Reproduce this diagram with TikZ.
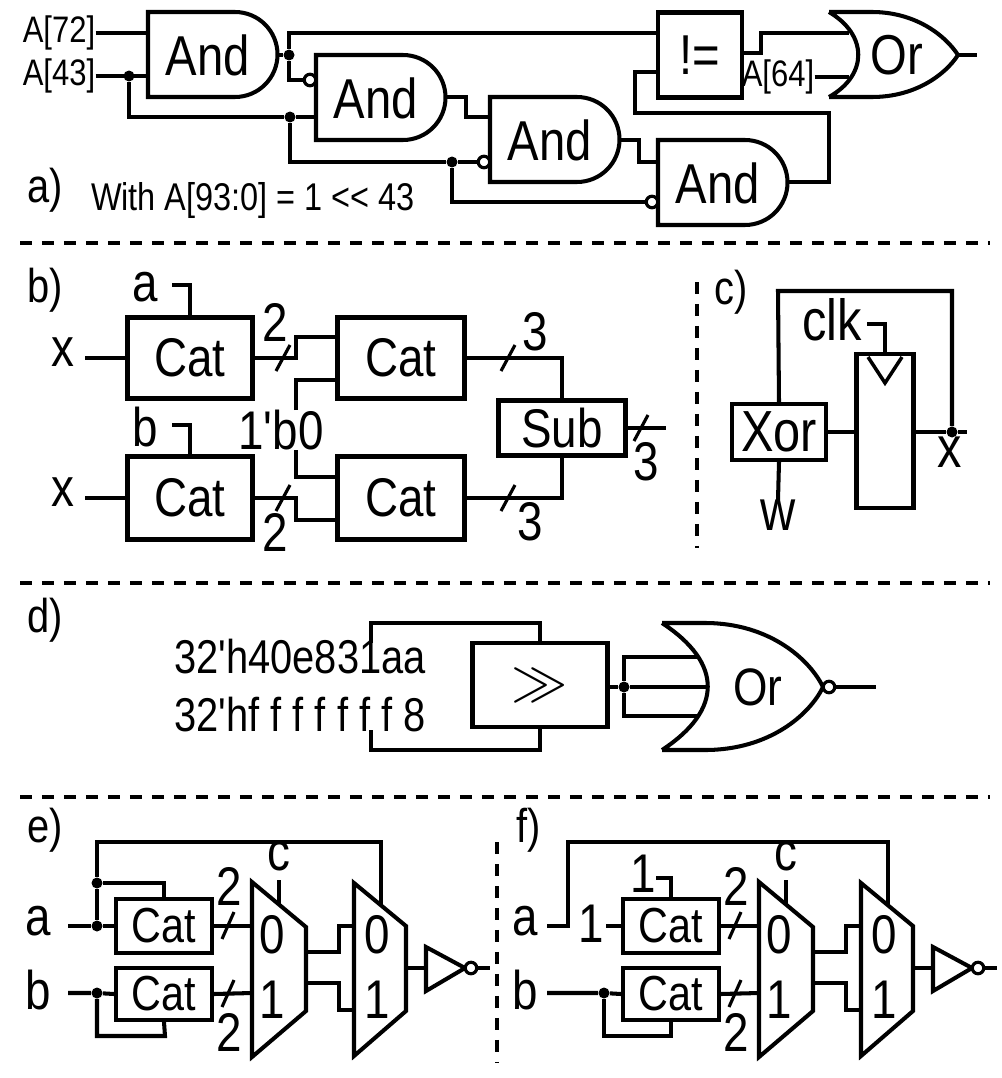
\documentclass[tikz,border=0pt]{standalone}
\usepackage{fontspec}
\setmainfont[FakeStretch=0.84, Ligatures=TeXOff]{Liberation Sans}
\usetikzlibrary{positioning}
\newcommand{\fsz}[1]{\fontsize{#1}{#1}\selectfont}
\tikzset{
	wire/.style={line width=2.3pt},
	box/.style={draw, rectangle, line width=2.3pt, inner sep=0pt},
	lbl/.style={inner sep=0pt},
	dot/.style={circle, fill, inner sep=0pt, minimum size=2.2mm},
	bubble/.style={circle, draw, fill=white, line width=1.8pt, inner sep=0pt, minimum size=2.3mm},
	sep/.style={line width=2.2pt, dash pattern=on 0.24cm off 0.2cm},
	slash/.style={line width=1.8pt},
}
\begin{document}
\begin{tikzpicture}[x=0.02cm, y=-0.02cm, line join=miter]
\useasboundingbox (0,0) rectangle (1001,1078);

% ---- a)
\node[lbl, font=\fsz{27}] (pa) at (45,190) {a)};
\node[lbl, font=\fsz{22}] (note) at (253,201) {With A[93:0] = 1 << 43};
\node[lbl, font=\fsz{21}] (a72) at (59,33) {A[72]};
\node[lbl, font=\fsz{21}] (a43) at (59,76) {A[43]};
\node[lbl, font=\fsz{21}] (a64) at (778,77) {A[64]};
\foreach \gx/\gy [count=\i] in {148/12, 316/55, 490/97, 658/140}{
	\draw[wire] (\gx,\gy) -- ++(87,0) arc[start angle=-90, end angle=90, radius=42.5] -- ++(-87,0) -- cycle;
	\node[lbl, font=\fsz{32}] (and\i) at (\gx+60,\gy+43) {And};
}
\node[box, minimum width=1.68cm, minimum height=1.7cm, font=\fsz{32}] (ne) at (700,55) {!=};
\draw[wire] (829,12) .. controls (868,35) and (868,75) .. (829,97)
	(829,12) -- (872,12) .. controls (915,12) and (945,35) .. (958,55)
	.. controls (945,75) and (915,97) .. (872,97) -- (829,97);
\node[lbl, font=\fsz{32}] (or1) at (897,55) {Or};
\node[dot] (d1) at (129,76) {};
\node[dot] (d2) at (290,117) {};
\node[dot] (d3) at (289,55) {};
\node[dot] (d4) at (452,162) {};
\node[bubble] (b2) at (310,80) {};
\node[bubble] (b3) at (484,162) {};
\node[bubble] (b4) at (652,202) {};
\coordinate (or1in) at (849,33);
\begin{scope}[wire]
	\draw (a72.east) -- (148,33);
	\draw (a43.east) -- (148,76);
	\draw (d1) |- (d2) -- (316,117);
	\draw (278,55) -- (d3) |- (ne.west |- 0,33);
	\draw (d3) |- (b2.west);
	\draw (d2) |- (d4) -- (b3.west);
	\draw (d4) |- (b4.west);
	\draw (446,97) -- (466,97) |- (490,117);
	\draw (619,140) -- (639,140) |- (658,162);
	\draw (787,182) -- (829,182) -- (829,113) -- (635,113) |- (ne.west |- 0,72);
	\draw (ne.east |- 0,53) -- (761,53) |- (or1in);
	\draw (a64.east) -- (849,77);
	\draw (958,55) -- (977,55);
\end{scope}

\draw[sep] (20,243) -- (990,243);

% ---- b)
\node[lbl, font=\fsz{27}] (pb) at (45,290) {b)};
\begin{scope}[every node/.style={font=\fsz{31}}]
	\node[box, minimum width=2.5cm, minimum height=1.62cm] (cat1) at (190,358) {Cat};
	\node[box, minimum width=2.54cm, minimum height=1.62cm] (cat2) at (401,358) {Cat};
	\node[box, minimum width=2.5cm, minimum height=1.66cm] (cat3) at (190,498) {Cat};
	\node[box, minimum width=2.54cm, minimum height=1.66cm] (cat4) at (401,498) {Cat};
	\node[box, minimum width=2.54cm, minimum height=1.1cm] (sub) at (562,428) {Sub};
	\node[lbl] (x1) at (63,352) {x};
	\node[lbl] (x2) at (63,492) {x};
	\node[lbl] (la) at (145,287) {a};
	\node[lbl] (lb) at (145,427) {b};
	\node[lbl] (zero) at (281,430) {1'b0};
	\node[lbl] (w1) at (275,322) {2};
	\node[lbl] (w2) at (275,532) {2};
	\node[lbl] (w3) at (535,332) {3};
	\node[lbl] (w4) at (530,522) {3};
	\node[lbl] (w5) at (646,462) {3};
\end{scope}
\begin{scope}[wire]
	\draw (85,358) -- (cat1.west);
	\draw (85,498) -- (cat3.west);
	\draw (172,285) -- (190,285) -- (cat1.north);
	\draw (172,425) -- (190,425) -- (cat3.north);
	\draw (cat1.east) -- (296,358) |- (cat2.west |- 0,337);
	\draw (296,410) |- (cat2.west |- 0,380);
	\draw (296,450) |- (cat4.west |- 0,477);
	\draw (cat3.east) -- (296,498) |- (cat4.west |- 0,520);
	\draw (cat2.east) -| (sub.north);
	\draw (cat4.east) -| (sub.south);
	\draw (sub.east) -- (666,428);
\end{scope}
\foreach \sx/\sy in {283/358, 283/498, 508/358, 508/498, 641/428}
	\draw[slash] (\sx-7,\sy+13) -- (\sx+7,\sy-13);

\draw[sep] (697,282) -- (697,548);

% ---- c)
\node[lbl, font=\fsz{27}] (pc) at (731,292) {c)};
\begin{scope}[every node/.style={font=\fsz{33}}]
	\node[box, minimum width=1.88cm, minimum height=1.12cm] (xor) at (779,432) {Xor};
	\node[box, minimum width=1.14cm, minimum height=3.08cm] (ff) at (885,431) {};
	\node[lbl] (clk) at (832,320) {clk};
	\node[lbl] (w) at (778,515) {w};
	\node[lbl] (xo) at (950,452) {x};
\end{scope}
\node[dot] (d5) at (952,432) {};
\draw[line width=2pt] (868,357) -- (885,383) -- (902,357);
\begin{scope}[wire]
	\draw (xor.east) -- (ff.west |- 0,432);
	\draw (ff.east |- 0,432) -- (d5) -- (967,432);
	\draw (d5) |- (778,291) -- (xor.north);
	\draw (xor.south) -- (778,500);
	\draw (867,324) -| (ff.north);
\end{scope}

\draw[sep] (20,797) -- (990,797);
\draw[sep] (20,583) -- (990,583);

% ---- d)
\node[lbl, font=\fsz{27}] (pd) at (45,620) {d)};
\node[lbl, anchor=west, align=left, font=\fsz{27}] (consts) at (174,686) {32'h40e831aa\\[6pt]32'hf f f f f f f 8};
\node[box, minimum width=2.7cm, minimum height=1.68cm] (shr) at (540,685) {\scalebox{3.2}{$\gg$}};
\draw[wire] (662,623) .. controls (723,663) and (723,710) .. (662,750)
	(662,623) -- (705,623) .. controls (770,623) and (810,660) .. (823,687)
	.. controls (810,714) and (770,750) .. (705,750) -- (662,750);
\node[lbl, font=\fsz{30}] (or2) at (758,687) {Or};
\node[bubble] (b5) at (829,687) {};
\node[dot] (d6) at (624,687) {};
\begin{scope}[wire]
	\draw (371,643) -- (371,623) -- (540,623) -- (shr.north);
	\draw (371,730) -- (371,750) -- (540,750) -- (shr.south);
	\draw (shr.east |- 0,687) -- (d6) -- (707,687);
	\draw (d6) |- (697,657);
	\draw (d6) |- (697,716);
	\draw (b5.east) -- (876,687);
\end{scope}

% ---- e) and f)
\node[lbl, font=\fsz{27}] (pe) at (45,830) {e)};
\node[lbl, font=\fsz{27}] (pf) at (529,830) {f)};
\draw[sep] (497,842) -- (497,1062);
\foreach \ox/\lx in {0/e, 507/f}{
	\begin{scope}[xshift=\ox*0.02cm]
		\draw[wire] (252,882) -- (306,927) -- (306,1011) -- (252,1057) -- cycle;
		\draw[wire] (354,883) -- (406,926) -- (406,1011) -- (354,1056) -- cycle;
		\draw[wire] (426,947) -- (465,968) -- (426,991) -- cycle;
		\node[bubble] (nb\lx) at (471,968) {};
		\begin{scope}[every node/.style={font=\fsz{31}, inner sep=0pt}]
			\node (m1z\lx) at (272,935) {0};
			\node (m1o\lx) at (272,1000) {1};
			\node (m2z\lx) at (377,935) {0};
			\node (m2o\lx) at (377,1000) {1};
			\node (c\lx) at (279,856) {c};
			\node (s1\lx) at (229,886) {2};
			\node (s2\lx) at (229,1032) {2};
		\end{scope}
		\node[box, minimum width=1.92cm, minimum height=1.08cm, font=\fsz{28}] (ca\lx) at (164,926) {Cat};
		\node[box, minimum width=1.92cm, minimum height=1.04cm, font=\fsz{28}] (cb\lx) at (164,994) {Cat};
		\begin{scope}[wire]
			\draw (279,880) -- (279,904);
			\draw (ca\lx.east) -- (252,926);
			\draw (cb\lx.east) -- (252,993);
			\draw (306,952) -- (339,952) |- (354,926);
			\draw (306,983) -- (339,983) |- (354,1010);
			\draw (406,968) -- (426,968);
			\draw (nb\lx.east) -- (490,968);
		\end{scope}
		\draw[slash] (222,939) -- (234,912);
		\draw[slash] (222,1007) -- (234,980);
	\end{scope}
}
% e) inputs
\node[lbl, font=\fsz{31}] (ea) at (38,921) {a};
\node[lbl, font=\fsz{31}] (eb) at (38,990) {b};
\node[dot] (d7) at (97,926) {};
\node[dot] (d8) at (97,883) {};
\node[dot] (d9) at (97,993) {};
\begin{scope}[wire]
	\draw (68,926) -- (d7) -- (cae.west);
	\draw (d7) -- (d8) -| (cae.north);
	\draw (d8) |- (381,842) -- (381,905);
	\draw (68,993) -- (d9) -- (cbe.west);
	\draw (d9) |- (165,1036) -- (cbe.south);
\end{scope}
% f) inputs
\node[lbl, font=\fsz{31}] (fa) at (525,921) {a};
\node[lbl, font=\fsz{31}] (fb) at (525,990) {b};
\node[lbl, font=\fsz{31}] (one1) at (591,924) {1};
\node[lbl, font=\fsz{31}] (one2) at (643,874) {1};
\node[dot] (d10) at (604,993) {};
\begin{scope}[wire]
	\draw (547,926) -- (568,926) |- (888,842) -- (888,905);
	\draw (606,926) -- (caf.west);
	\draw (656,878) -- (671,878) -- (caf.north);
	\draw (547,993) -- (d10) -- (cbf.west);
	\draw (d10) |- (671,1036) -- (cbf.south);
\end{scope}
\end{tikzpicture}
\end{document}
